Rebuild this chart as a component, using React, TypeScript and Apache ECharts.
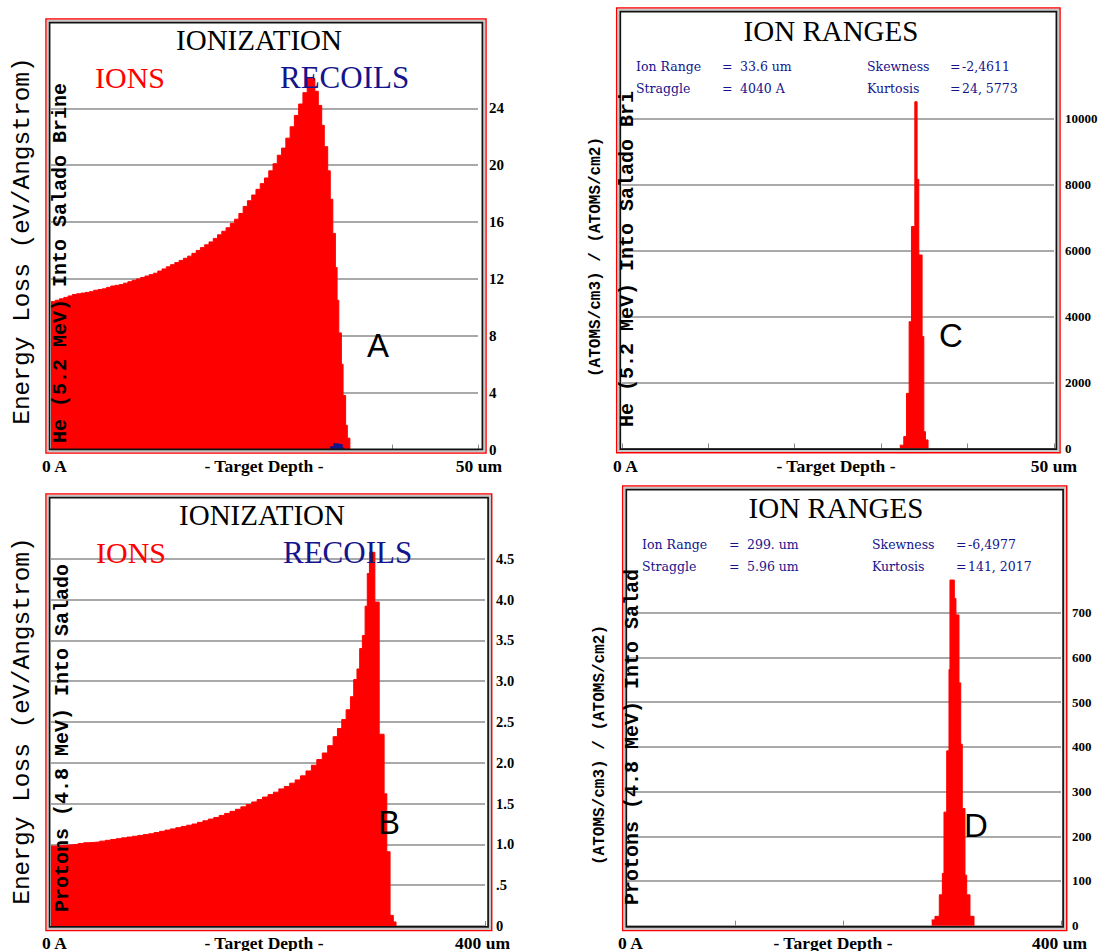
import React, { useEffect, useRef } from "react";
import * as echarts from "echarts";

// ---------- Panel A : IONIZATION, He (5.2 MeV) ----------
const aDepthUm = [0,0.5,1,1.5,2,2.5,3,3.5,4,4.5,5,5.5,6,6.5,7,7.5,8,8.5,9,9.5,10,10.5,11,11.5,12,12.5,13,13.5,14,14.5,15,15.5,16,16.5,17,17.5,18,18.5,19,19.5,20,20.5,21,21.5,22,22.5,23,23.5,24,24.5,25,25.5,26,26.5,27,27.5,28,28.5,29,29.5,30,30.9,31.3,31.7,32.0,32.4,32.7,33.0,33.3,33.5,33.7,34.0,34.2,34.5,34.7,35.0];
const aIonLoss = [10.4,10.5,10.6,10.7,10.8,10.9,10.95,11.0,11.05,11.1,11.2,11.25,11.3,11.4,11.5,11.55,11.6,11.7,11.8,11.9,12.0,12.1,12.2,12.3,12.4,12.55,12.7,12.85,13.0,13.15,13.3,13.45,13.6,13.8,14.0,14.2,14.4,14.6,14.85,15.1,15.35,15.6,15.9,16.2,16.6,17.1,17.5,17.9,18.3,18.7,19.1,19.6,20.1,20.7,21.2,21.9,22.7,23.5,24.3,25.1,26.1,25.2,24.2,22.8,21.3,19.6,17.6,15.2,12.8,10.5,8.2,6.0,3.8,1.7,0.8,0];
const aRecoilDepthUm = [32.7,33.1,33.7,34.1,34.3];
const aRecoilLoss = [0.2,0.4,0.35,0.1,0];
const aYTicks = [0,4,8,12,16,20,24];

// ---------- Panel B : IONIZATION, Protons (4.8 MeV) ----------
const bDepthUm = [0,5,10,15,20,25,30,35,40,45,50,55,60,65,70,75,80,85,90,95,100,105,110,115,120,125,130,135,140,145,150,155,160,165,170,175,180,185,190,195,200,205,210,215,220,225,230,235,240,245,250,255,260,264,268,272,276,279,282,284.5,287,289.5,291.5,293.5,298.5,302.5,307,309.5,312.5,315.5,318];
const bIonLoss = [0.98,0.985,0.99,0.995,1.00,1.01,1.02,1.025,1.03,1.04,1.05,1.06,1.07,1.08,1.09,1.10,1.11,1.12,1.13,1.145,1.16,1.175,1.19,1.205,1.22,1.235,1.25,1.27,1.29,1.31,1.33,1.355,1.38,1.405,1.43,1.46,1.49,1.52,1.55,1.58,1.61,1.64,1.68,1.71,1.75,1.79,1.84,1.90,1.97,2.04,2.12,2.21,2.32,2.42,2.53,2.65,2.81,3.02,3.15,3.40,3.56,3.92,4.32,4.58,3.97,2.35,1.62,0.91,0.13,0.05,0];
const bYTickLabels = ["0",".5","1.0","1.5","2.0","2.5","3.0","3.5","4.0","4.5"];

// ---------- Panel C : ION RANGES, He (5.2 MeV) ----------
const cDepthUm = [32.16,32.62,32.94,33.24,33.51,33.9,34.16,34.36,34.74,34.94,35.13,35.43];
const cIonCounts = [100,360,1670,3840,6720,10500,8150,5860,3390,510,260,0];
const cYTicks = [0,2000,4000,6000,8000,10000];

// ---------- Panel D : ION RANGES, Protons (4.8 MeV) ----------
const dDepthUm = [281.1,284.1,288.1,290.9,292.4,294.9,297.0,297.9,301.9,303.4,306.2,307.8,309.2,311.7,313.3,316.3,320.0];
const dIonCounts = [13,21,69,117,254,391,573,773,732,695,543,406,262,113,69,21,0];
const dYTicks = [0,100,200,300,400,500,600,700];

const cStats = [["Ion Range", "33.6 um"], ["Straggle", "4040 A"]];
const cStats2 = [["Skewness", "-2,4611"], ["Kurtosis", "24, 5773"]];
const dStats = [["Ion Range", "299. um"], ["Straggle", "5.96 um"]];
const dStats2 = [["Skewness", "-6,4977"], ["Kurtosis", "141, 2017"]];

const pairs = (xs: number[], ys: number[]) => xs.map((x, i) => [x, ys[i]]);

const RED = "#ff0000";
const NAVY = "#14148c";
const GRID_COLOR = "#8c8c8c";

function frame(x1: number, y1: number, x2: number, y2: number) {
  const r = (d: number, stroke: string, lw: number) => ({
    type: "rect",
    z: 100,
    silent: true,
    shape: { x: x1 + d, y: y1 + d, width: x2 - x1 - 2 * d, height: y2 - y1 - 2 * d },
    style: { fill: "none", stroke, lineWidth: lw },
  });
  return [r(0, RED, 1.5), r(1.8, "#c6c6c6", 2), r(3.6, "#111111", 1.7)];
}

function T(text: string, x: number, y: number, o: any = {}) {
  return {
    type: "text",
    x,
    y,
    rotation: o.rot || 0,
    z: 110,
    silent: true,
    style: {
      text,
      fill: o.color || "#000",
      fontSize: o.size || 14,
      fontFamily: o.family || "Liberation Serif",
      fontWeight: o.weight || "normal",
      align: o.align || "left",
      verticalAlign: o.va || "middle",
    },
  };
}

const SERIF = "Liberation Serif";
const MONO = "Liberation Mono";
const SANS = "Liberation Sans";
const UP = Math.PI / 2;

function statsBlock(rows: string[][], rows2: string[][], lx: number, ex: number, vx: number, lx2: number, ex2: number, vx2: number, y1: number, y2: number) {
  const o = { color: NAVY, size: 12.5, family: "DejaVu Serif" };
  const out: any[] = [];
  [y1, y2].forEach((y, i) => {
    out.push(T(rows[i][0], lx, y, o), T("=", ex, y, o), T(rows[i][1], vx, y, o));
    out.push(T(rows2[i][0], lx2, y, o), T("=", ex2, y, o), T(rows2[i][1], vx2, y, o));
  });
  return out;
}

function bottomLabels(lx: number, cx: number, rx: number, y: number, right: string) {
  const o = { size: 17.5, weight: "bold", family: SERIF };
  return [
    T("0 A", lx, y, o),
    T("- Target Depth -", cx, y, { ...o, align: "center" }),
    T(right, rx, y, { ...o, align: "right" }),
  ];
}

export default function App() {
  const ref = useRef<HTMLDivElement>(null);
  useEffect(() => {
    if (!ref.current) return;
    const chart = echarts.init(ref.current, undefined, { renderer: "svg" });

    const yBase = (gridIndex: number, max: number, interval: number, size: number, fmt?: any) => ({
      gridIndex,
      type: "value",
      position: "right",
      min: 0,
      max,
      interval,
      axisLine: { show: false },
      axisTick: { show: false },
      axisLabel: {
        margin: 11,
        color: "#000",
        fontFamily: SERIF,
        fontWeight: "bold",
        fontSize: size,
        formatter: fmt || ((v: number) => String(v)),
      },
      splitLine: { show: true, lineStyle: { color: GRID_COLOR, width: 1.5 } },
    });
    const xBase = (gridIndex: number, max: number, interval: number) => ({
      gridIndex,
      type: "value",
      min: 0,
      max,
      interval,
      axisLine: { show: false },
      axisTick: { show: true, inside: true, length: 5, lineStyle: { color: "#888", width: 1 } },
      axisLabel: { show: false },
      splitLine: { show: false },
    });
    const area = (idx: number, data: number[][], color: string) => ({
      type: "line",
      xAxisIndex: idx,
      yAxisIndex: idx,
      data,
      step: "end",
      showSymbol: false,
      clip: false,
      silent: true,
      lineStyle: { color, width: 1 },
      areaStyle: { color, opacity: 1 },
    });

    const option: any = {
      animation: false,
      backgroundColor: "#ffffff",
      grid: [
        { left: 51, top: 108.3, width: 427, height: 341.2 },
        { left: 621.8, top: 118.3, width: 432.2, height: 330.2 },
        { left: 51, top: 558.8, width: 434, height: 367.2 },
        { left: 626, top: 612.7, width: 435, height: 313 },
      ],
      xAxis: [xBase(0, 50, 10), xBase(1, 50, 10), xBase(2, 400, 100), xBase(3, 400, 100)],
      yAxis: [
        yBase(0, aYTicks[aYTicks.length - 1], aYTicks[1] - aYTicks[0], 15),
        yBase(1, cYTicks[cYTicks.length - 1], cYTicks[1] - cYTicks[0], 13),
        yBase(2, 4.5, 0.5, 14.5, (v: number) => bYTickLabels[Math.round(v / 0.5)]),
        yBase(3, dYTicks[dYTicks.length - 1], dYTicks[1] - dYTicks[0], 13),
      ],
      series: [
        area(0, pairs(aDepthUm, aIonLoss), RED),
        area(0, pairs(aRecoilDepthUm, aRecoilLoss), NAVY),
        area(1, pairs(cDepthUm, cIonCounts), RED),
        area(2, pairs(bDepthUm, bIonLoss), RED),
        area(3, pairs(dDepthUm, dIonCounts), RED),
      ],
      graphic: {
        elements: [
          ...frame(46, 19, 486, 453),
          ...frame(616.7, 8, 1060, 452.7),
          ...frame(46, 494, 491.7, 930.5),
          ...frame(622.7, 486, 1066.7, 930.5),

          // Panel A
          T("IONIZATION", 259, 40, { size: 29, align: "center" }),
          T("IONS", 95, 77, { size: 30, color: RED }),
          T("RECOILS", 280, 77, { size: 31, color: NAVY }),
          T("Energy Loss (eV/Angstrom)", 22, 241, { size: 24.5, family: MONO, rot: UP, align: "center" }),
          T("He (5.2 MeV) Into Salado Brine", 60, 443, { size: 20, family: MONO, weight: "bold", rot: UP }),
          ...bottomLabels(42, 264, 502, 465.5, "50 um"),
          T("A", 378, 345, { size: 33, family: SANS, align: "center" }),

          // Panel C
          T("ION RANGES", 831, 31, { size: 29, align: "center" }),
          ...statsBlock(cStats, cStats2, 636, 722, 740, 867, 950, 962, 66, 88.5),
          T("(ATOMS/cm3) / (ATOMS/cm2)", 596, 257, { size: 16, family: MONO, weight: "bold", rot: UP, align: "center" }),
          T("He (5.2 MeV) Into Salado Bri", 627, 427, { size: 20, family: MONO, weight: "bold", rot: UP }),
          ...bottomLabels(613, 836, 1077, 465.5, "50 um"),
          T("C", 951, 335, { size: 33, family: SANS, align: "center" }),

          // Panel B
          T("IONIZATION", 262, 515, { size: 29, align: "center" }),
          T("IONS", 96, 552, { size: 30, color: RED }),
          T("RECOILS", 283, 552, { size: 31, color: NAVY }),
          T("Energy Loss (eV/Angstrom)", 22, 721, { size: 24.5, family: MONO, rot: UP, align: "center" }),
          T("Protons (4.8 MeV) Into Salado", 62, 912, { size: 20, family: MONO, weight: "bold", rot: UP }),
          ...bottomLabels(42, 264, 510, 942.5, "400 um"),
          T("B", 389, 822, { size: 33, family: SANS, align: "center" }),

          // Panel D
          T("ION RANGES", 836, 508, { size: 29, align: "center" }),
          ...statsBlock(dStats, dStats2, 642, 729, 747, 872, 956, 968, 544, 566),
          T("(ATOMS/cm3) / (ATOMS/cm2)", 600, 745, { size: 16, family: MONO, weight: "bold", rot: UP, align: "center" }),
          T("Protons (4.8 MeV) Into Salad", 632, 905, { size: 20, family: MONO, weight: "bold", rot: UP }),
          ...bottomLabels(618, 833, 1087, 942.5, "400 um"),
          T("D", 976, 825, { size: 33, family: SANS, align: "center" }),
        ],
      },
    };

    chart.setOption(option);
    return () => chart.dispose();
  }, []);

  return (
    <div
      ref={ref}
      style={{ position: "fixed", left: 0, top: 0, width: 1104, height: 951, background: "#fff" }}
    />
  );
}
